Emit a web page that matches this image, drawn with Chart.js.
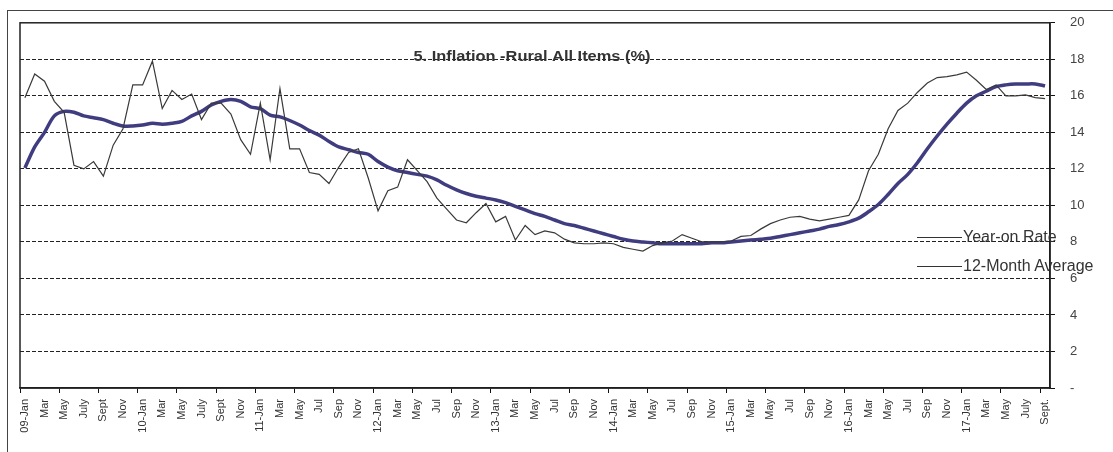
<!DOCTYPE html>
<html>
<head>
<meta charset="utf-8">
<script src="https://cdn.jsdelivr.net/npm/chart.js@4/dist/chart.umd.min.js"></script>
<style>
  body { margin: 0; background: #fff; }
  #wrap { position: relative; width: 1113px; height: 452px; }
  .legend-row { position: absolute; left: 917px; display: flex; align-items: center; font-family: Arial, "Liberation Sans", sans-serif; font-size: 16px; color: #333; white-space: nowrap; }
  .legend-row span.line { display: inline-block; width: 45px; height: 0; border-top: 1.5px solid #333; margin-right: 1px; }
</style>
</head>
<body>
<div id="wrap">
  <canvas id="inflationChart" width="1113" height="452"></canvas>
  <div class="legend-row" style="top: 228px;"><span class="line"></span>Year-on Rate</div>
  <div class="legend-row" style="top: 257px;"><span class="line"></span>12-Month Average</div>
</div>
<script>
// months Jan 2009 .. Sept 2017, only every other one is shown on the axis
const months = [
    '09-Jan', 'Feb', 'Mar', 'Apr', 'May', 'Jun', 'July', 'Aug', 'Sept', 'Oct', 'Nov', 'Dec',
    '10-Jan', 'Feb', 'Mar', 'Apr', 'May', 'Jun', 'July', 'Aug', 'Sept', 'Oct', 'Nov', 'Dec',
    '11-Jan', 'Feb', 'Mar', 'Apr', 'May', 'Jun', 'Jul', 'Aug', 'Sep', 'Oct', 'Nov', 'Dec',
    '12-Jan', 'Feb', 'Mar', 'Apr', 'May', 'Jun', 'Jul', 'Aug', 'Sep', 'Oct', 'Nov', 'Dec',
    '13-Jan', 'Feb', 'Mar', 'Apr', 'May', 'Jun', 'Jul', 'Aug', 'Sep', 'Oct', 'Nov', 'Dec',
    '14-Jan', 'Feb', 'Mar', 'Apr', 'May', 'Jun', 'Jul', 'Aug', 'Sep', 'Oct', 'Nov', 'Dec',
    '15-Jan', 'Feb', 'Mar', 'Apr', 'May', 'Jun', 'Jul', 'Aug', 'Sep', 'Oct', 'Nov', 'Dec',
    '16-Jan', 'Feb', 'Mar', 'Apr', 'May', 'Jun', 'Jul', 'Aug', 'Sep', 'Oct', 'Nov', 'Dec',
    '17-Jan', 'Feb', 'Mar', 'Apr', 'May', 'Jun', 'July', 'Aug', 'Sept.'
];

const yearOnRate = [
    15.9, 17.2, 16.8, 15.7, 15.1, 12.2, 12.0, 12.4, 11.6, 13.3, 14.2, 16.6,
    16.6, 17.9, 15.3, 16.3, 15.8, 16.1, 14.7, 15.6, 15.6, 15.0, 13.6, 12.8,
    15.6, 12.5, 16.4, 13.1, 13.1, 11.8, 11.7, 11.2, 12.1, 12.9, 13.1, 11.5,
    9.7, 10.8, 11.0, 12.5, 11.9, 11.3, 10.4, 9.8, 9.2, 9.05, 9.6, 10.1,
    9.1, 9.4, 8.1, 8.9, 8.4, 8.6, 8.5, 8.15, 7.95, 7.9, 7.9, 7.95,
    7.9, 7.7, 7.6, 7.5, 7.8, 7.95, 8.05, 8.4, 8.2, 8.0, 8.0, 8.0,
    8.05, 8.3, 8.35, 8.7, 9.0, 9.2, 9.35, 9.4, 9.25, 9.15, 9.25, 9.35,
    9.45, 10.3, 11.9, 12.8, 14.2, 15.2, 15.6, 16.2, 16.7, 17.0, 17.05, 17.15,
    17.3, 16.85, 16.35, 16.6, 16.0, 16.0, 16.05, 15.9, 15.85
];

const twelveMonthAvg = [
    12.05, 13.2, 14.0, 14.9, 15.15, 15.1, 14.9, 14.8, 14.7, 14.5, 14.35, 14.35,
    14.4, 14.5, 14.45, 14.5, 14.6, 14.9, 15.15, 15.5, 15.7, 15.8, 15.7, 15.4,
    15.3, 14.95, 14.85, 14.65, 14.4, 14.1, 13.85, 13.5, 13.2, 13.05, 12.9, 12.8,
    12.4, 12.1, 11.9, 11.8, 11.7, 11.6, 11.4, 11.1, 10.85, 10.65, 10.5, 10.4,
    10.3, 10.15, 9.95, 9.75, 9.55, 9.4, 9.2, 9.0, 8.9, 8.75, 8.6, 8.45,
    8.3, 8.15, 8.05, 8.0, 7.95, 7.9, 7.9, 7.9, 7.9, 7.9, 7.95, 7.95,
    8.0, 8.05, 8.1, 8.15, 8.2, 8.3, 8.4, 8.5, 8.6, 8.7, 8.85, 8.95,
    9.1, 9.3, 9.65, 10.05, 10.6, 11.2, 11.7, 12.35, 13.1, 13.8, 14.45, 15.05,
    15.6, 16.0, 16.25, 16.5, 16.6, 16.65, 16.65, 16.65, 16.55
];

const chartTitle = '5. Inflation -Rural All Items (%)';

// plot frame, outer chart border and the title drawn inside the plot
const framePlugin = {
    id: 'frame',
    afterDraw(chart) {
        const ctx = chart.ctx;
        const area = chart.chartArea;
        ctx.save();
        ctx.strokeStyle = '#222';
        ctx.lineWidth = 1.5;
        ctx.strokeRect(area.left, area.top, area.right - area.left, area.bottom - area.top);
        ctx.strokeStyle = '#444';
        ctx.lineWidth = 1;
        ctx.strokeRect(7.5, 10.5, chart.width - 6, chart.height);

        // title is a bit wider than plain Arial in the original
        ctx.font = 'bold 14px Arial, "Liberation Sans", sans-serif';
        ctx.fillStyle = '#333';
        ctx.textAlign = 'center';
        ctx.textBaseline = 'middle';
        const w = ctx.measureText(chartTitle).width;
        ctx.translate((area.left + area.right) / 2 - 3, area.top + 34);
        ctx.scale(237 / w, 1);
        ctx.fillText(chartTitle, 0, 0);
        ctx.restore();
    }
};

new Chart(document.getElementById('inflationChart'), {
    type: 'line',
    data: {
        labels: months,
        datasets: [{
            label: 'Year-on Rate',
            data: yearOnRate,
            borderColor: '#3a3a3a',
            borderWidth: 1.2,
            pointRadius: 0,
            tension: 0
        }, {
            label: '12-Month Average',
            data: twelveMonthAvg,
            borderColor: '#403c80',
            borderWidth: 3.5,
            pointRadius: 0,
            tension: 0.3
        }]
    },
    options: {
        responsive: false,
        animation: false,
        layout: {
            padding: { left: 20, top: 21, right: 0, bottom: 0 }
        },
        plugins: {
            legend: { display: false },
            tooltip: { enabled: false }
        },
        scales: {
            x: {
                offset: true,
                grid: {
                    offset: true,
                    drawOnChartArea: false,
                    tickLength: 5,
                    tickColor: (c) => (c.index % 4 === 0 ? '#111' : 'rgba(0,0,0,0)')
                },
                border: { color: '#111', width: 1.5 },
                ticks: {
                    autoSkip: false,
                    minRotation: 90,
                    maxRotation: 90,
                    padding: 6,
                    color: '#333',
                    font: { family: 'Arial, "Liberation Sans", sans-serif', size: 11 },
                    callback: function (value, index) {
                        return index % 2 === 0 ? this.getLabelForValue(value) : '';
                    }
                },
                afterFit: (scale) => { scale.height = 64; }
            },
            y: {
                position: 'right',
                min: 0,
                max: 20,
                grid: {
                    color: (c) => (c.tick.value === 0 || c.tick.value === 20 ? 'rgba(0,0,0,0)' : '#222'),
                    tickColor: '#111',
                    tickLength: 5
                },
                border: { color: '#111', width: 1.5, dash: [4, 2] },
                ticks: {
                    stepSize: 2,
                    padding: 15,
                    color: '#444',
                    font: { family: 'Arial, "Liberation Sans", sans-serif', size: 13 },
                    callback: (v) => (v === 0 ? '-' : v)
                },
                afterFit: (scale) => { scale.width = 63; }
            }
        }
    },
    plugins: [framePlugin]
});
</script>
</body>
</html>
